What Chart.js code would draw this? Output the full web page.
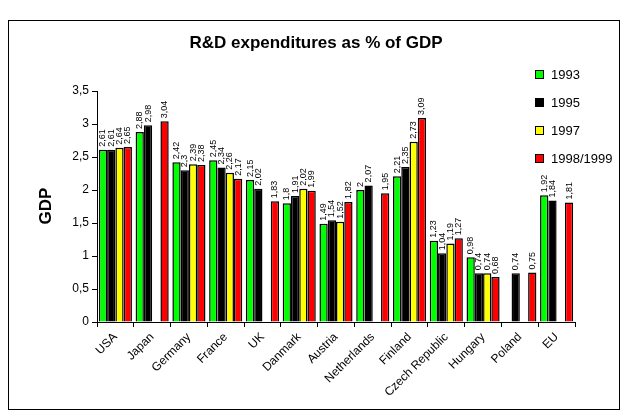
<!DOCTYPE html>
<html>
<head>
<meta charset="utf-8">
<script src="https://cdn.jsdelivr.net/npm/chart.js@4"></script>
<style>
  html, body { margin: 0; padding: 0; background: #fff; }
  #wrap { width: 628px; height: 419px; }
</style>
</head>
<body>
<div id="wrap"><canvas id="chartGasto" width="628" height="419"></canvas></div>
<script>
// Datos
const paises = ['USA', 'Japan', 'Germany', 'France', 'UK', 'Danmark', 'Austria',
  'Netherlands', 'Finland', 'Czech Republic', 'Hungary', 'Poland', 'EU'];
const anios = ['1993', '1995', '1997', '1998/1999'];
const datos1993 = [2.61, 2.88, 2.42, 2.45, 2.15, 1.8, 1.49, 2, 2.21, 1.23, 0.98, null, 1.92];
const datos1995 = [2.61, 2.98, 2.3, 2.34, 2.02, 1.91, 1.54, 2.07, 2.35, 1.04, 0.74, 0.74, 1.84];
const datos1997 = [2.64, null, 2.39, 2.26, null, 2.02, 1.52, null, 2.73, 1.19, 0.74, null, null];
const datos1999 = [2.65, 3.04, 2.38, 2.17, 1.83, 1.99, 1.82, 1.95, 3.09, 1.27, 0.68, 0.75, 1.81];
const colores = ['#00ff00', '#000000', '#ffff00', '#ff0000'];
const ticksY = [0, 0.5, 1, 1.5, 2, 2.5, 3, 3.5];

const fuente = 'Arial, "Liberation Sans", sans-serif';
const coma = v => String(v).replace('.', ',');

// Valores verticales encima de cada barra
const etiquetasBarras = {
  id: 'etiquetasBarras',
  afterDatasetsDraw(chart) {
    const ctx = chart.ctx;
    ctx.save();
    ctx.font = '9px ' + fuente;
    ctx.fillStyle = '#000';
    ctx.textAlign = 'left';
    ctx.textBaseline = 'middle';
    chart.data.datasets.forEach((ds, i) => {
      const meta = chart.getDatasetMeta(i);
      meta.data.forEach((bar, j) => {
        const v = ds.data[j];
        if (v === null) return;
        ctx.save();
        ctx.translate(bar.x, bar.y - 3);
        ctx.rotate(-Math.PI / 2);
        ctx.fillText(coma(v), 0, 0);
        ctx.restore();
      });
    });
    ctx.restore();
  }
};

// Marco, titulo, titulo del eje y leyenda
const decoracion = {
  id: 'decoracion',
  afterDraw(chart) {
    const ctx = chart.ctx;
    ctx.save();
    ctx.strokeStyle = '#000';
    ctx.lineWidth = 1;
    ctx.strokeRect(8.5, 20.5, 611, 389);

    ctx.fillStyle = '#000';
    ctx.font = 'bold 17px ' + fuente;
    ctx.textAlign = 'center';
    ctx.textBaseline = 'middle';
    ctx.fillText('R&D expenditures as % of GDP', 316, 43);

    ctx.save();
    ctx.translate(46, 206);
    ctx.rotate(-Math.PI / 2);
    ctx.fillText('GDP', 0, 0);
    ctx.restore();

    ctx.font = '13px ' + fuente;
    ctx.textAlign = 'left';
    anios.forEach((a, i) => {
      const y = 75 + i * 28;
      ctx.fillStyle = colores[i];
      ctx.fillRect(535.5, y - 4.5, 8, 8);
      ctx.strokeRect(535.5, y - 4.5, 8, 8);
      ctx.fillStyle = '#000';
      ctx.fillText(a, 551, y);
    });
    ctx.restore();
  }
};

const series = [datos1993, datos1995, datos1997, datos1999];

new Chart(document.getElementById('chartGasto').getContext('2d'), {
  type: 'bar',
  data: {
    labels: paises,
    datasets: series.map((d, i) => ({
      label: anios[i],
      data: d,
      backgroundColor: colores[i],
      borderColor: '#000',
      borderWidth: 1.5,
      barPercentage: 1,
      categoryPercentage: 0.9
    }))
  },
  options: {
    responsive: false,
    animation: false,
    layout: { padding: { left: 0, top: 91, right: 53, bottom: 0 } },
    scales: {
      x: {
        afterFit: s => { s.height = 97; },
        grid: { offset: true, drawOnChartArea: false, tickLength: 5, color: '#000' },
        border: { color: '#000' },
        ticks: {
          color: '#000',
          font: { family: fuente, size: 12 },
          minRotation: 45,
          maxRotation: 45,
          autoSkip: false
        }
      },
      y: {
        min: 0,
        max: 3.5,
        afterFit: s => { s.width = 97; },
        afterBuildTicks: s => { s.ticks = ticksY.map(v => ({ value: v })); },
        grid: { drawOnChartArea: false, tickLength: 5, color: '#000' },
        border: { color: '#000' },
        ticks: {
          color: '#000',
          font: { family: fuente, size: 12 },
          callback: v => coma(v)
        }
      }
    },
    plugins: {
      legend: { display: false },
      tooltip: { enabled: false }
    }
  },
  plugins: [etiquetasBarras, decoracion]
});
</script>
</body>
</html>
